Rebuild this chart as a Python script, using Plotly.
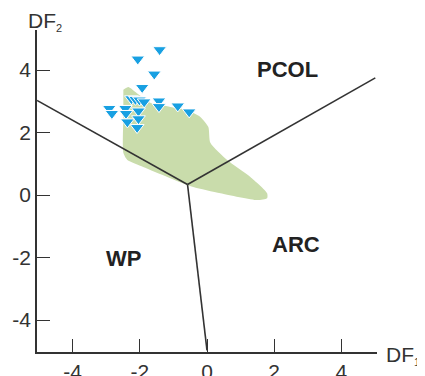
import plotly.graph_objects as go

# Field polygon (green)
field_x = [-2.49, -2.34, -2.13, -1.69, -1.09, -0.59, -0.20, 0.04, 0.10, 0.60, 1.29, 1.79, 1.79, 1.50, 0.40, -0.41, -1.18, -1.90, -2.37, -2.49, -2.49]
field_y = [3.37, 3.46, 3.30, 2.95, 2.82, 2.72, 2.50, 2.18, 1.67, 1.12, 0.58, 0.06, -0.10, -0.16, 0.06, 0.26, 0.58, 0.90, 1.12, 1.35, 2.40]

# Boundary lines (from triple junction)
junction = (-0.58, 0.34)
line_ends_x = [-5.06, 5.01, 0.0]
line_ends_y = [3.03, 3.75, -4.97]

# Samples (blue triangles)
samp_x = [-1.41, -2.06, -1.57, -1.93, -2.25, -2.13, -2.01, -1.87, -1.43, -1.43, -0.87, -0.53, -2.91, -2.83, -2.43, -2.41, -2.04, -2.04, -2.37, -2.08]
samp_y = [4.65, 4.35, 3.87, 3.44, 3.08, 3.06, 3.04, 2.98, 3.01, 2.83, 2.85, 2.66, 2.77, 2.61, 2.77, 2.61, 2.69, 2.44, 2.34, 2.16]

# Region labels
reg_names = ["PCOL", "WP", "ARC"]
reg_x = [2.40, -2.50, 2.66]
reg_y = [4.02, -2.04, -1.59]

ticks = [-4, -2, 0, 2, 4]

fig = go.Figure()
fig.add_trace(go.Scatter(x=field_x, y=field_y, fill="toself", mode="lines",
                         line=dict(width=0, shape="spline", smoothing=0.6),
                         fillcolor="#c9dcab", hoverinfo="skip"))
for ex, ey in zip(line_ends_x, line_ends_y):
    fig.add_trace(go.Scatter(x=[junction[0], ex], y=[junction[1], ey], mode="lines",
                             line=dict(color="#333333", width=1.6)))
fig.add_trace(go.Scatter(x=samp_x, y=samp_y, mode="markers",
                         marker=dict(symbol="triangle-down", size=12, color="#18a0e2",
                                     line=dict(color="white", width=1))))

for n, x, y in zip(reg_names, reg_x, reg_y):
    fig.add_annotation(x=x, y=y, text="<b>%s</b>" % n, showarrow=False,
                       font=dict(size=22, color="#222222", family="Liberation Sans, Arial"))

fig.add_annotation(xref="paper", yref="paper", x=0.0, y=1.0, xanchor="center", yanchor="bottom",
                   xshift=8, yshift=-6,
                   text='DF<sub><span style="font-size:11px">2</span></sub>', showarrow=False,
                   font=dict(size=21, color="#333333", family="Liberation Sans, Arial"))
fig.add_annotation(xref="paper", yref="paper", x=1.0, y=0.0, xanchor="left", yanchor="middle",
                   xshift=7, yshift=-3,
                   text='DF<sub><span style="font-size:11px">1</span></sub>', showarrow=False,
                   font=dict(size=21, color="#333333", family="Liberation Sans, Arial"))

axis_common = dict(showgrid=False, zeroline=False, showline=True, linecolor="#333333", linewidth=1.5,
                   ticks="inside", ticklen=13, tickwidth=1.3, tickcolor="#333333",
                   tickvals=ticks, ticktext=[str(t) for t in ticks], automargin=False,
                   tickfont=dict(size=21, color="#333333", family="Liberation Sans, Arial"))
fig.update_xaxes(range=[-5.06, 5.06], **axis_common)
fig.update_yaxes(range=[-5.02, 5.28], **axis_common)

fig.update_layout(width=417, height=368, showlegend=False,
                  margin=dict(l=29, r=48, t=22, b=24),
                  plot_bgcolor="white", paper_bgcolor="white")
fig.write_html("out.html")
